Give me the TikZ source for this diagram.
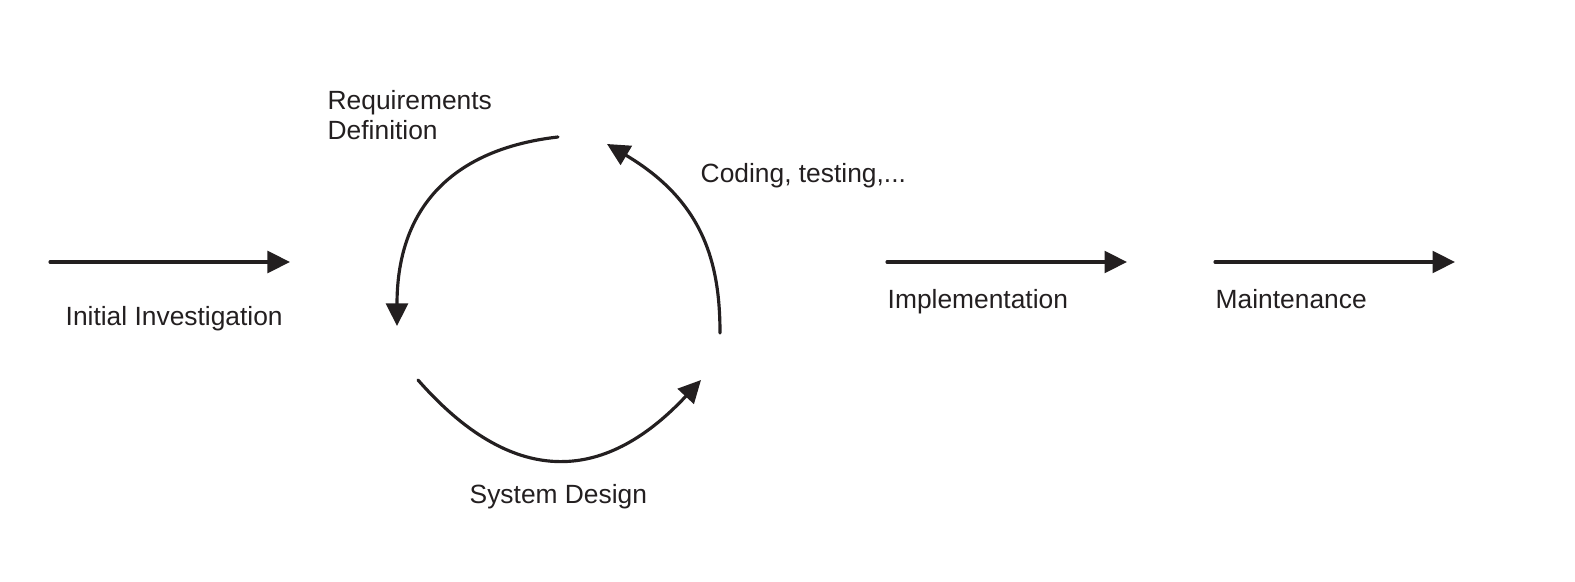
\documentclass[tikz,border=0pt]{standalone}
\usepackage{fontspec}
\setmainfont{Liberation Sans}
\usepackage{xcolor}
\definecolor{ink}{HTML}{231F20}
\usepackage{tikz}
\usetikzlibrary{positioning, arrows.meta}

\begin{document}
\begin{tikzpicture}[x=0.01cm, y=-0.01cm,
    flow/.style={-{Triangle[length=6.4pt, width=6.2pt]}, ink, line width=0.9pt, line cap=round},
    lbl/.style={inner sep=0pt, anchor=base west, text=ink, font=\fontsize{7.5}{8.6}\selectfont, align=left}]
  \useasboundingbox (0,0) rectangle (1575,582);
  % phases along the line
  \coordinate (a0) at (50,262);   \coordinate (a1) at (290,262);
  \coordinate (b0) at (887,262);  \coordinate (b1) at (1127,262);
  \coordinate (c0) at (1215,262); \coordinate (c1) at (1455,262);
  % the loop
  \coordinate (r0) at (558,137);  \coordinate (r1) at (397,326);
  \coordinate (s0) at (418,380);  \coordinate (s1) at (701,380);
  \coordinate (t0) at (720,333);  \coordinate (t1) at (607,144);
  \node[lbl] (ini) at (65,326) {Initial Investigation};
  \node[lbl] (req) at (327,140) {Requirements\\Definition};
  \node[lbl] (cod) at (700,183) {Coding, testing,...};
  \node[lbl] (sys) at (469,503) {System Design};
  \node[lbl] (imp) at (887,308) {Implementation};
  \node[lbl] (mnt) at (1215,308) {Maintenance};
  \draw[flow] (a0) -- (a1);
  \draw[flow] (b0) -- (b1);
  \draw[flow] (c0) -- (c1);
  \draw[flow] (r0) .. controls (461,148) and (397,200) .. (r1);
  \draw[flow] (s0) .. controls (511,486) and (602,486) .. (s1);
  \draw[flow] (t0) .. controls (720,262) and (703,201) .. (t1);
\end{tikzpicture}
\end{document}
